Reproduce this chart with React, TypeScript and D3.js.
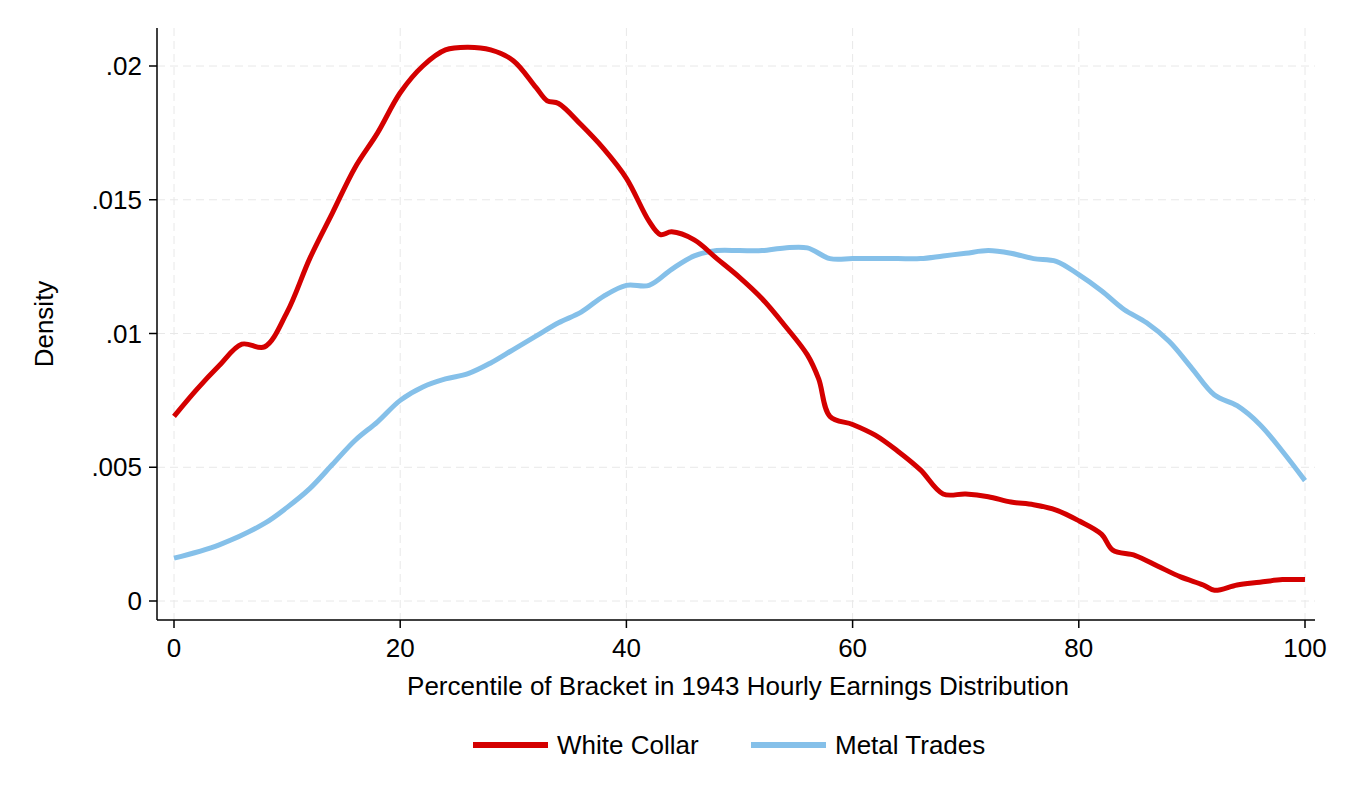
import * as d3 from "d3"

const xs = [0, 2, 4, 6, 8, 10, 12, 14, 16, 18, 20, 22, 24, 26, 28, 30, 32, 33, 34, 36, 38, 40, 42, 43, 44, 46, 48, 50, 52, 54, 56, 57, 58, 60, 62, 64, 66, 68, 70, 72, 74, 76, 78, 80, 82, 83, 85, 87, 89, 91, 92, 94, 96, 98, 100]
const whiteCollar = [.0069, .0079, .0088, .0096, .0095, .0108, .0128, .0145, .0162, .0175, .019, .02, .0206, .0207, .0206, .0202, .0192, .0187, .0186, .0178, .0169, .0158, .0142, .0137, .0138, .0135, .0128, .0121, .0113, .0103, .0092, .0083, .0069, .0066, .0062, .0056, .0049, .004, .004, .0039, .0037, .0036, .0034, .003, .0025, .0019, .0017, .0013, .0009, .0006, .0004, .0006, .0007, .0008, .0008]
const xsMetal = [0, 4, 8, 10, 12, 14, 16, 18, 20, 22, 24, 26, 28, 30, 32, 34, 36, 38, 40, 42, 44, 46, 48, 50, 52, 54, 56, 58, 60, 62, 64, 66, 68, 70, 72, 74, 76, 78, 80, 82, 84, 86, 88, 90, 92, 94, 96, 98, 100]
const metalTrades = [.0016, .0021, .0029, .0035, .0042, .0051, .006, .0067, .0075, .008, .0083, .0085, .0089, .0094, .0099, .0104, .0108, .0114, .0118, .0118, .0124, .0129, .0131, .0131, .0131, .0132, .0132, .0128, .0128, .0128, .0128, .0128, .0129, .013, .0131, .013, .0128, .0127, .0122, .0116, .0109, .0104, .0097, .0087, .0077, .0073, .0066, .0056, .0045]
const xTicks = [0, 20, 40, 60, 80, 100]
const yTicks = [0, .005, .01, .015, .02]
const yLabels = ["0", ".005", ".01", ".015", ".02"]

export default function App() {
  const x = d3.scaleLinear().domain([0, 100]).range([174, 1305])
  const y = d3.scaleLinear().domain([0, 0.02]).range([601, 66])
  const line = d3.line<[number, number]>().x(d => x(d[0])).y(d => y(d[1])).curve(d3.curveCatmullRom)
  const red = "#d40000", blue = "#85c0e9"
  const font = "Liberation Sans, Arial, sans-serif"
  return (
    <svg width={1350} height={810} style={{ position: "absolute", left: 0, top: 0 }} fontFamily={font}>
      <rect width={1350} height={810} fill="white" />
      {xTicks.map(t => <line key={"gx" + t} x1={x(t)} x2={x(t)} y1={28} y2={620} stroke="#e8e8e8" strokeDasharray="8,5" />)}
      {yTicks.map(t => <line key={"gy" + t} x1={157} x2={1315} y1={y(t)} y2={y(t)} stroke="#e8e8e8" strokeDasharray="8,5" />)}
      <line x1={157} x2={157} y1={28} y2={620} stroke="black" strokeWidth={1.5} />
      <line x1={157} x2={1315} y1={620} y2={620} stroke="black" strokeWidth={1.5} />
      {xTicks.map(t => (
        <g key={"tx" + t}>
          <line x1={x(t)} x2={x(t)} y1={620} y2={628} stroke="black" strokeWidth={1.5} />
          <text x={x(t)} y={657} textAnchor="middle" fontSize={26}>{t}</text>
        </g>
      ))}
      {yTicks.map((t, i) => (
        <g key={"ty" + t}>
          <line x1={149} x2={157} y1={y(t)} y2={y(t)} stroke="black" strokeWidth={1.5} />
          <text x={142} y={y(t) + 9} textAnchor="end" fontSize={26}>{yLabels[i]}</text>
        </g>
      ))}
      <text x={738} y={695} textAnchor="middle" fontSize={26}>Percentile of Bracket in 1943 Hourly Earnings Distribution</text>
      <text transform="translate(53,324) rotate(-90)" textAnchor="middle" fontSize={26}>Density</text>
      <path d={line(metalTrades.map((v, i) => [xsMetal[i], v]))!} fill="none" stroke={blue} strokeWidth={5} />
      <path d={line(whiteCollar.map((v, i) => [xs[i], v]))!} fill="none" stroke={red} strokeWidth={5} />
      <line x1={473} x2={548} y1={745} y2={745} stroke={red} strokeWidth={6} />
      <text x={557} y={754} fontSize={26}>White Collar</text>
      <line x1={751} x2={826} y1={745} y2={745} stroke={blue} strokeWidth={6} />
      <text x={835} y={754} fontSize={26}>Metal Trades</text>
    </svg>
  )
}
